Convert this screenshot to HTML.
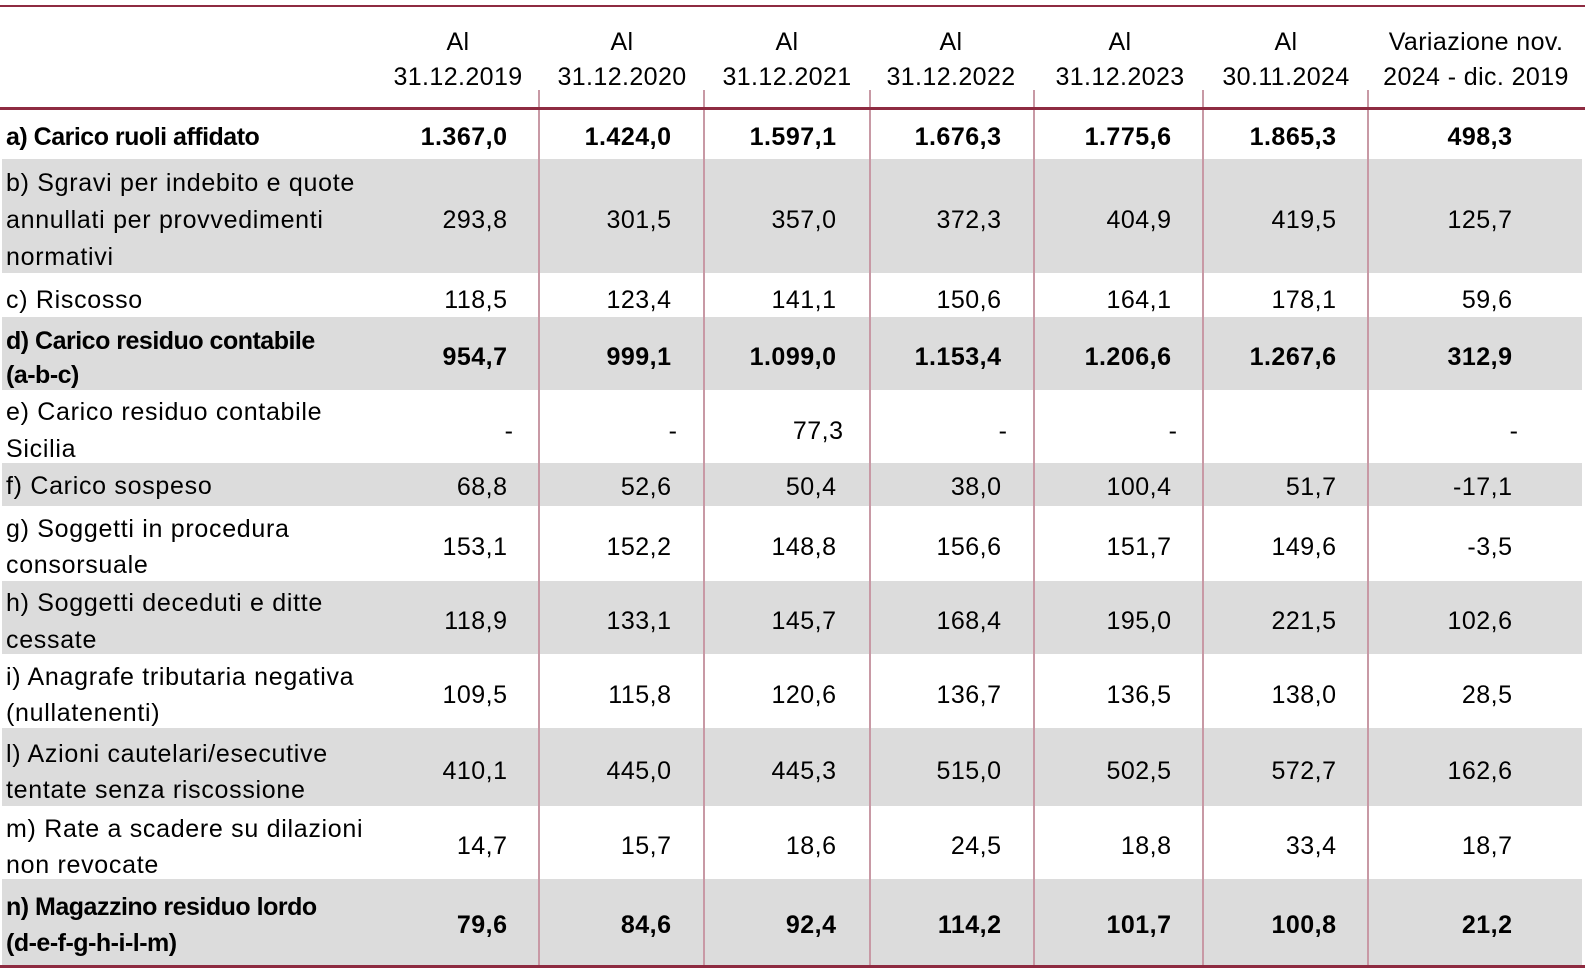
<!DOCTYPE html>
<html>
<head>
<meta charset="utf-8">
<style>
html,body{margin:0;padding:0;background:#fff;}
#c{position:relative;width:1590px;height:976px;overflow:hidden;background:#fff;font-family:"Liberation Sans",Arial,sans-serif;font-size:25px;color:#000;}
.g{position:absolute;left:2px;width:1580px;background:#dcdcdc;}
.hl{position:absolute;left:0;width:1585px;background:#8e2b41;}
.vs{position:absolute;top:90px;height:875px;width:2px;background:#c899a5;}
.t{position:absolute;height:36px;line-height:36px;white-space:nowrap;letter-spacing:0.5px;}
.L{left:6px;letter-spacing:0.7px;}
.b{font-weight:bold;}
.lb{font-weight:bold;letter-spacing:-0.5px;}
.h{text-align:center;width:240px;letter-spacing:0.4px;}
.v{text-align:right;}
</style>
</head>
<body>
<div id="c">
<!-- gray bands -->
<div class="g" style="top:159px;height:114px"></div>
<div class="g" style="top:317px;height:73px"></div>
<div class="g" style="top:463px;height:43px"></div>
<div class="g" style="top:581px;height:73px"></div>
<div class="g" style="top:728px;height:78px"></div>
<div class="g" style="top:879px;height:86px"></div>

<!-- separators -->
<div class="vs" style="left:538px"></div>
<div class="vs" style="left:703px"></div>
<div class="vs" style="left:869px"></div>
<div class="vs" style="left:1033px"></div>
<div class="vs" style="left:1202px"></div>
<div class="vs" style="left:1367px"></div>

<!-- horizontal rules -->
<div class="hl" style="top:5px;height:2px"></div>
<div class="hl" style="top:107px;height:3px"></div>
<div class="hl" style="top:965px;height:3px"></div>

<!-- header -->
<div class="t h" style="left:338px;top:24px">Al</div>
<div class="t h" style="left:338px;top:59px">31.12.2019</div>
<div class="t h" style="left:502px;top:24px">Al</div>
<div class="t h" style="left:502px;top:59px">31.12.2020</div>
<div class="t h" style="left:667px;top:24px">Al</div>
<div class="t h" style="left:667px;top:59px">31.12.2021</div>
<div class="t h" style="left:831px;top:24px">Al</div>
<div class="t h" style="left:831px;top:59px">31.12.2022</div>
<div class="t h" style="left:1000px;top:24px">Al</div>
<div class="t h" style="left:1000px;top:59px">31.12.2023</div>
<div class="t h" style="left:1166px;top:24px">Al</div>
<div class="t h" style="left:1166px;top:59px">30.11.2024</div>
<div class="t h" style="left:1356px;top:24px">Variazione nov.</div>
<div class="t h" style="left:1356px;top:59px">2024 - dic. 2019</div>

<!-- labels -->
<div class="t L lb" style="top:119px">a) Carico ruoli affidato</div>
<div class="t L" style="top:165px">b) Sgravi per indebito e quote</div>
<div class="t L" style="top:202px">annullati per provvedimenti</div>
<div class="t L" style="top:239px">normativi</div>
<div class="t L" style="top:282px">c) Riscosso</div>
<div class="t L lb" style="top:323px">d) Carico residuo contabile</div>
<div class="t L lb" style="top:357px">(a-b-c)</div>
<div class="t L" style="top:394px">e) Carico residuo contabile</div>
<div class="t L" style="top:431px">Sicilia</div>
<div class="t L" style="top:468px">f) Carico sospeso</div>
<div class="t L" style="top:511px">g) Soggetti in procedura</div>
<div class="t L" style="top:547px">consorsuale</div>
<div class="t L" style="top:585px">h) Soggetti deceduti e ditte</div>
<div class="t L" style="top:622px">cessate</div>
<div class="t L" style="top:659px">i) Anagrafe tributaria negativa</div>
<div class="t L" style="top:695px">(nullatenenti)</div>
<div class="t L" style="top:736px">l) Azioni cautelari/esecutive</div>
<div class="t L" style="top:772px">tentate senza riscossione</div>
<div class="t L" style="top:811px">m) Rate a scadere su dilazioni</div>
<div class="t L" style="top:847px">non revocate</div>
<div class="t L lb" style="top:889px">n) Magazzino residuo lordo</div>
<div class="t L lb" style="top:925px">(d-e-f-g-h-i-l-m)</div>

<!-- row a -->
<div class="t v b" style="top:119px;right:1082.5px">1.367,0</div>
<div class="t v b" style="top:119px;right:918.5px">1.424,0</div>
<div class="t v b" style="top:119px;right:753.5px">1.597,1</div>
<div class="t v b" style="top:119px;right:588.5px">1.676,3</div>
<div class="t v b" style="top:119px;right:418.5px">1.775,6</div>
<div class="t v b" style="top:119px;right:253.5px">1.865,3</div>
<div class="t v b" style="top:119px;right:77.5px">498,3</div>

<!-- row b -->
<div class="t v" style="top:202px;right:1082.5px">293,8</div>
<div class="t v" style="top:202px;right:918.5px">301,5</div>
<div class="t v" style="top:202px;right:753.5px">357,0</div>
<div class="t v" style="top:202px;right:588.5px">372,3</div>
<div class="t v" style="top:202px;right:418.5px">404,9</div>
<div class="t v" style="top:202px;right:253.5px">419,5</div>
<div class="t v" style="top:202px;right:77.5px">125,7</div>

<!-- row c -->
<div class="t v" style="top:282px;right:1082.5px">118,5</div>
<div class="t v" style="top:282px;right:918.5px">123,4</div>
<div class="t v" style="top:282px;right:753.5px">141,1</div>
<div class="t v" style="top:282px;right:588.5px">150,6</div>
<div class="t v" style="top:282px;right:418.5px">164,1</div>
<div class="t v" style="top:282px;right:253.5px">178,1</div>
<div class="t v" style="top:282px;right:77.5px">59,6</div>

<!-- row d -->
<div class="t v b" style="top:339px;right:1082.5px">954,7</div>
<div class="t v b" style="top:339px;right:918.5px">999,1</div>
<div class="t v b" style="top:339px;right:753.5px">1.099,0</div>
<div class="t v b" style="top:339px;right:588.5px">1.153,4</div>
<div class="t v b" style="top:339px;right:418.5px">1.206,6</div>
<div class="t v b" style="top:339px;right:253.5px">1.267,6</div>
<div class="t v b" style="top:339px;right:77.5px">312,9</div>

<!-- row e -->
<div class="t v" style="top:413px;right:1076.5px">-</div>
<div class="t v" style="top:413px;right:912.5px">-</div>
<div class="t v" style="top:413px;right:746.5px">77,3</div>
<div class="t v" style="top:413px;right:582.5px">-</div>
<div class="t v" style="top:413px;right:412.5px">-</div>
<div class="t v" style="top:413px;right:71.5px">-</div>

<!-- row f -->
<div class="t v" style="top:469px;right:1082.5px">68,8</div>
<div class="t v" style="top:469px;right:918.5px">52,6</div>
<div class="t v" style="top:469px;right:753.5px">50,4</div>
<div class="t v" style="top:469px;right:588.5px">38,0</div>
<div class="t v" style="top:469px;right:418.5px">100,4</div>
<div class="t v" style="top:469px;right:253.5px">51,7</div>
<div class="t v" style="top:469px;right:77.5px">-17,1</div>

<!-- row g -->
<div class="t v" style="top:529px;right:1082.5px">153,1</div>
<div class="t v" style="top:529px;right:918.5px">152,2</div>
<div class="t v" style="top:529px;right:753.5px">148,8</div>
<div class="t v" style="top:529px;right:588.5px">156,6</div>
<div class="t v" style="top:529px;right:418.5px">151,7</div>
<div class="t v" style="top:529px;right:253.5px">149,6</div>
<div class="t v" style="top:529px;right:77.5px">-3,5</div>

<!-- row h -->
<div class="t v" style="top:603px;right:1082.5px">118,9</div>
<div class="t v" style="top:603px;right:918.5px">133,1</div>
<div class="t v" style="top:603px;right:753.5px">145,7</div>
<div class="t v" style="top:603px;right:588.5px">168,4</div>
<div class="t v" style="top:603px;right:418.5px">195,0</div>
<div class="t v" style="top:603px;right:253.5px">221,5</div>
<div class="t v" style="top:603px;right:77.5px">102,6</div>

<!-- row i -->
<div class="t v" style="top:677px;right:1082.5px">109,5</div>
<div class="t v" style="top:677px;right:918.5px">115,8</div>
<div class="t v" style="top:677px;right:753.5px">120,6</div>
<div class="t v" style="top:677px;right:588.5px">136,7</div>
<div class="t v" style="top:677px;right:418.5px">136,5</div>
<div class="t v" style="top:677px;right:253.5px">138,0</div>
<div class="t v" style="top:677px;right:77.5px">28,5</div>

<!-- row l -->
<div class="t v" style="top:753px;right:1082.5px">410,1</div>
<div class="t v" style="top:753px;right:918.5px">445,0</div>
<div class="t v" style="top:753px;right:753.5px">445,3</div>
<div class="t v" style="top:753px;right:588.5px">515,0</div>
<div class="t v" style="top:753px;right:418.5px">502,5</div>
<div class="t v" style="top:753px;right:253.5px">572,7</div>
<div class="t v" style="top:753px;right:77.5px">162,6</div>

<!-- row m -->
<div class="t v" style="top:828px;right:1082.5px">14,7</div>
<div class="t v" style="top:828px;right:918.5px">15,7</div>
<div class="t v" style="top:828px;right:753.5px">18,6</div>
<div class="t v" style="top:828px;right:588.5px">24,5</div>
<div class="t v" style="top:828px;right:418.5px">18,8</div>
<div class="t v" style="top:828px;right:253.5px">33,4</div>
<div class="t v" style="top:828px;right:77.5px">18,7</div>

<!-- row n -->
<div class="t v b" style="top:907px;right:1082.5px">79,6</div>
<div class="t v b" style="top:907px;right:918.5px">84,6</div>
<div class="t v b" style="top:907px;right:753.5px">92,4</div>
<div class="t v b" style="top:907px;right:588.5px">114,2</div>
<div class="t v b" style="top:907px;right:418.5px">101,7</div>
<div class="t v b" style="top:907px;right:253.5px">100,8</div>
<div class="t v b" style="top:907px;right:77.5px">21,2</div>
</div>
</body>
</html>
